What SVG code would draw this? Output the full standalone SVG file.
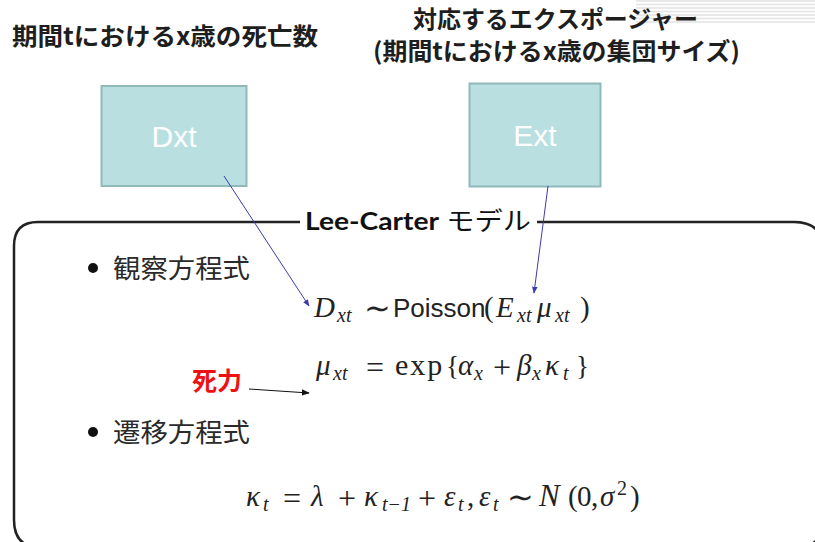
<svg xmlns="http://www.w3.org/2000/svg" width="815" height="542" viewBox="0 0 815 542">
<style>
.title{font-family:"Noto Sans CJK JP","Noto Sans",sans-serif;font-weight:700;font-size:24px;fill:#1e1e1e}
.box{fill:#b9dfe1;stroke:#90b9ba;stroke-width:2}
.boxtxt{font-family:"Liberation Sans",Arial,sans-serif;font-size:30px;fill:#ffffff;text-anchor:middle}
.frame{fill:none;stroke:#222;stroke-width:2.5}
.jp{font-family:"Noto Sans CJK JP",sans-serif;font-size:26px;fill:#2a2a2a}
.math{font-family:"Liberation Serif","Times New Roman",serif;font-size:29px;fill:#222}
.it{font-style:italic}
.sans{font-family:"Liberation Sans",Arial,sans-serif;font-style:normal;font-size:26px}
.sub{font-size:20px}
.op{font-size:32px;text-anchor:middle}
.blue{stroke:#3b3bb0;stroke-width:1;fill:none}
.blk{stroke:#111;stroke-width:1;fill:none}
.deco{stroke:#e2e2e2;stroke-width:1.5}
</style>
<defs>
<marker id="ab" viewBox="0 0 10 10" refX="9" refY="5" markerWidth="7" markerHeight="7" orient="auto" markerUnits="userSpaceOnUse">
<path d="M0,1 L10,5 L0,9 z" fill="#3b3bb0"/>
</marker>
<marker id="ak" viewBox="0 0 10 10" refX="9" refY="5" markerWidth="8" markerHeight="8" orient="auto" markerUnits="userSpaceOnUse">
<path d="M0,1 L10,5 L0,9 z" fill="#111"/>
</marker>
</defs>
<rect width="815" height="542" fill="#fff"/>
<g id="decoration">
<line class="deco" x1="636" y1="1" x2="815" y2="1"/>
<line class="deco" x1="636" y1="4.5" x2="815" y2="4.5"/>
<line class="deco" x1="636" y1="8" x2="815" y2="8"/>
<line class="deco" x1="636" y1="11.5" x2="815" y2="11.5"/>
<line class="deco" x1="636" y1="15" x2="815" y2="15"/>
<line class="deco" x1="636" y1="18.5" x2="815" y2="18.5"/>
<line class="deco" x1="636" y1="22" x2="815" y2="22"/>
</g>
<g id="title-deaths">
<text class="title" x="12" y="45" textLength="306" lengthAdjust="spacingAndGlyphs">期間tにおけるx歳の死亡数</text>
</g>
<g id="title-exposure">
<text class="title" x="413" y="28" textLength="285" lengthAdjust="spacingAndGlyphs">対応するエクスポージャー</text>
<text class="title" x="373" y="60" textLength="367" lengthAdjust="spacingAndGlyphs">(期間tにおけるx歳の集団サイズ)</text>
</g>
<g id="node-dxt">
<rect class="box" x="101.5" y="86" width="145" height="100"/>
<text class="boxtxt" x="174" y="147">Dxt</text>
</g>
<g id="node-ext">
<rect class="box" x="469.5" y="83.5" width="131" height="103"/>
<text class="boxtxt" x="535" y="146">Ext</text>
</g>
<g id="lee-carter-model">
<path class="frame" d="M300,222 L38,222 Q14,222 14,246 L14,520 Q14,548 42,548 L794,548 Q824,548 824,518 L824,252 Q824,222 794,222 L537,222"/>
<text x="418" y="230" text-anchor="middle" textLength="226" lengthAdjust="spacingAndGlyphs" style="font-family:Lato,'Noto Sans CJK JP',sans-serif;font-size:25px;fill:#111"><tspan font-weight="700">Lee-Carter</tspan> モデル</text>
</g>
<g id="observation-equation">
<circle cx="93" cy="268" r="5" fill="#111"/>
<text class="jp" x="113" y="278" textLength="137" lengthAdjust="spacingAndGlyphs">観察方程式</text>
<g class="math">
<text class="it" x="314" y="317">D</text>
<text class="it sub" x="337" y="322">xt</text>
<text class="op" x="377" y="319">∼</text>
<text class="sans" x="393" y="317">Poisson</text>
<text x="484" y="317">(</text>
<text class="it" x="496" y="317">E</text>
<text class="it sub" x="517" y="322">xt</text>
<text class="it" x="537" y="317">μ</text>
<text class="it sub" x="555" y="322">xt</text>
<text x="580" y="317">)</text>
</g>
<g class="math">
<text class="it" x="316" y="375">μ</text>
<text class="it sub" x="333" y="380">xt</text>
<text class="op" x="375" y="378">=</text>
<text x="395" y="375" font-size="30" letter-spacing="2">exp</text>
<text x="446" y="375" font-size="27">{</text>
<text class="it" x="458" y="375">α</text>
<text class="it sub" x="474" y="380">x</text>
<text class="op" x="502" y="378">+</text>
<text class="it" x="517" y="375">β</text>
<text class="it sub" x="532" y="380">x</text>
<text class="it" x="545" y="375">κ</text>
<text class="it sub" x="563" y="380">t</text>
<text x="576" y="375" font-size="27">}</text>
</g>
</g>
<g id="label-force-of-mortality">
<text x="192" y="390" style="font-family:'Noto Sans CJK JP',sans-serif;font-weight:700;font-size:25px;fill:#ee1111">死力</text>
</g>
<g id="transition-equation">
<circle cx="93" cy="432" r="5" fill="#111"/>
<text class="jp" x="113" y="442" textLength="137" lengthAdjust="spacingAndGlyphs">遷移方程式</text>
<g class="math">
<text class="it" x="246" y="506">κ</text>
<text class="it sub" x="263" y="511">t</text>
<text class="op" x="292" y="509">=</text>
<text class="it" x="311" y="506">λ</text>
<text class="op" x="347" y="509">+</text>
<text class="it" x="364" y="506">κ</text>
<text class="it sub" x="382" y="511">t−1</text>
<text class="op" x="427" y="509">+</text>
<text class="it" x="444" y="506">ε</text>
<text class="it sub" x="458" y="511">t</text>
<text x="467" y="506">,</text>
<text class="it" x="479" y="506">ε</text>
<text class="it sub" x="493" y="511">t</text>
<text class="op" x="520" y="508">∼</text>
<text class="it" x="539" y="506" font-size="31">N</text>
<text x="568" y="506">(</text>
<text x="577" y="506">0</text>
<text x="591" y="506">,</text>
<text class="it" x="600" y="506">σ</text>
<text class="sub" x="617" y="495">2</text>
<text x="630" y="506">)</text>
</g>
</g>
<g id="connectors">
<line class="blue" x1="224" y1="176" x2="309" y2="306" marker-end="url(#ab)"/>
<line class="blue" x1="548" y1="186" x2="534" y2="293" marker-end="url(#ab)"/>
<line class="blk" x1="249" y1="389" x2="309" y2="393" marker-end="url(#ak)"/>
</g>
</svg>
